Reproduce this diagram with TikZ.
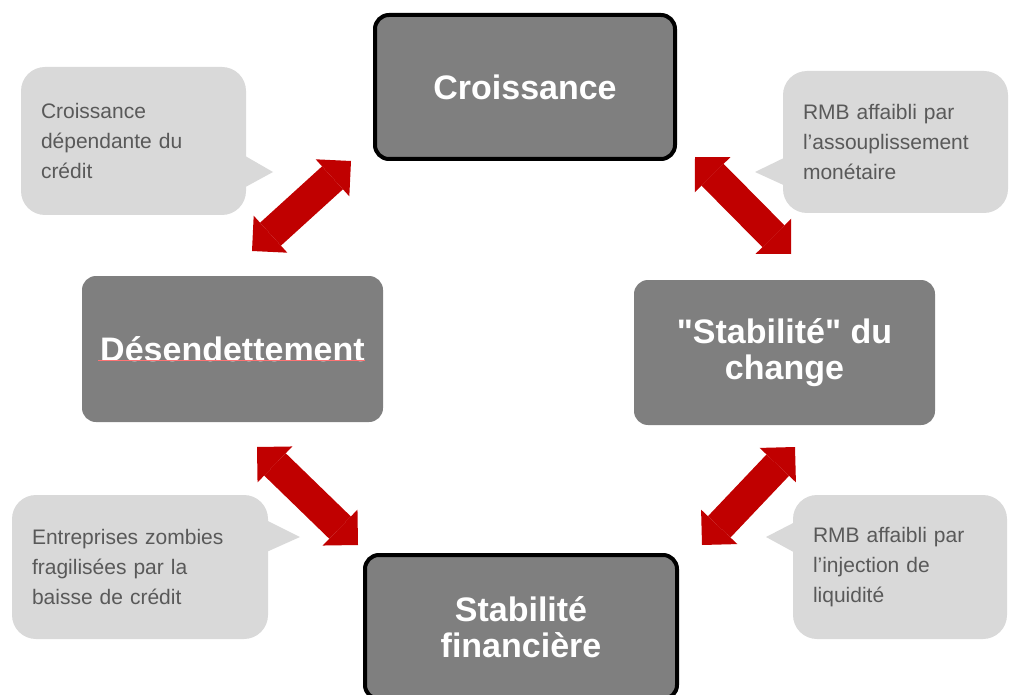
\documentclass[tikz,border=0pt]{standalone}
\usepackage{fontspec}
\setmainfont{Liberation Sans}[Ligatures=TeXOff]
\usetikzlibrary{arrows.meta}

\definecolor{blocgris}{HTML}{7F7F7F}
\definecolor{bullegris}{HTML}{D9D9D9}
\definecolor{textegris}{HTML}{595959}
\definecolor{rouge}{HTML}{C00000}

\begin{document}
\begin{tikzpicture}[x=1pt,y=-1pt,
    bloc/.style={fill=blocgris, rounded corners=14pt, text=white, align=center,
        font=\fontsize{34}{36}\selectfont\bfseries, inner sep=0pt,
        minimum width=301pt, minimum height=146pt},
    blocnoir/.style={bloc, draw=black, line width=4pt},
    bulle/.style={fill=bullegris, rounded corners=24pt, text=textegris, align=left,
        font=\fontsize{21}{30}\selectfont, inner xsep=20pt, inner ysep=0pt},
    fleche/.style={rouge, line width=31pt,
        {Triangle[width=50pt,length=25pt,line width=0pt]}-{Triangle[width=50pt,length=25pt,line width=0pt]}}]

    \useasboundingbox (0,0) rectangle (1009,695);
    \clip (0,0) rectangle (1009,695);

    % les quatre blocs
    \node[blocnoir, minimum width=300pt, minimum height=144pt] (croissance) at (525,87) {Croissance};
    \node[bloc] (desendettement) at (232.5,349) {Désendettement};
    \node[bloc, minimum height=145pt] (change) at (784.5,352.5) {"Stabilité" du\\change};
    \node[blocnoir, minimum width=312pt, minimum height=144pt] (financiere) at (521,627) {Stabilité\\financière};
    \draw[red!55, line width=1pt] (98,360) -- (365,360);

    % bulles de commentaire
    \fill[bullegris] (240,153) -- (273,172) -- (240,190) -- cycle;
    \node[bulle, text width=185pt, minimum height=148pt] (bulleNO) at (133.5,141)
        {Croissance\\dépendante du\\crédit};
    \fill[bullegris] (790,155) -- (755,172) -- (790,188) -- cycle;
    \node[bulle, text width=185pt, minimum height=142pt] (bulleNE) at (895.5,142)
        {RMB affaibli par\\l’assouplissement\\monétaire};
    \fill[bullegris] (262,518) -- (300,537) -- (262,554) -- cycle;
    \node[bulle, text width=216pt, minimum height=144pt] (bulleSO) at (140,567)
        {Entreprises zombies\\fragilisées par la\\baisse de crédit};
    \fill[bullegris] (799,520) -- (766,537) -- (799,555) -- cycle;
    \node[bulle, text width=174pt, minimum height=144pt] (bulleSE) at (900,567)
        {RMB affaibli par\\l’injection de\\liquidité};

    % fleches doubles
    \coordinate (flNOa) at (252,251);
    \coordinate (flNOb) at (351,161);
    \coordinate (flNEa) at (695,157);
    \coordinate (flNEb) at (791,254);
    \coordinate (flSOa) at (257,447);
    \coordinate (flSOb) at (358,545);
    \coordinate (flSEa) at (795,447);
    \coordinate (flSEb) at (702,545);
    \draw[fleche] (flNOa) -- (flNOb);
    \draw[fleche] (flNEa) -- (flNEb);
    \draw[fleche] (flSOa) -- (flSOb);
    \draw[fleche] (flSEa) -- (flSEb);

\end{tikzpicture}
\end{document}
